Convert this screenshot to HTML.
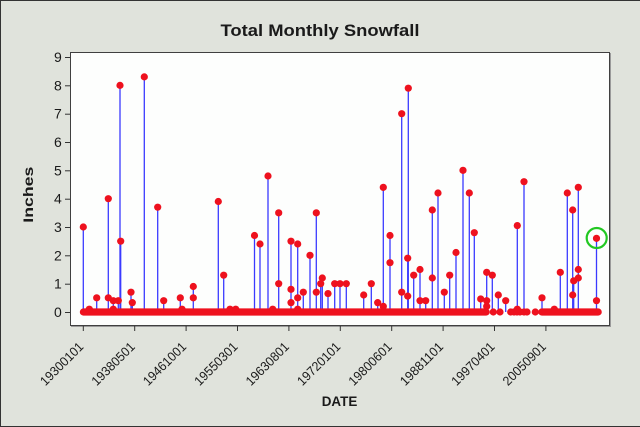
<!DOCTYPE html>
<html><head><meta charset="utf-8"><style>
html,body{margin:0;padding:0;background:#e0e3dc;}
svg{display:block;}
text{font-family:"Liberation Sans","DejaVu Sans",sans-serif;fill:#1a1a1a;}
</style></head><body>
<svg width="640" height="427" viewBox="0 0 640 427" xmlns="http://www.w3.org/2000/svg">
<rect x="0" y="0" width="640" height="427" fill="#e0e3dc"/>
<line x1="0.5" y1="0" x2="0.5" y2="427" stroke="#333" stroke-width="1"/>
<line x1="0" y1="0.5" x2="640" y2="0.5" stroke="#333" stroke-width="1"/>
<line x1="0" y1="426.5" x2="640" y2="426.5" stroke="#333" stroke-width="1"/>

<text x="320" y="36" font-size="17" font-weight="bold" text-anchor="middle" textLength="199" lengthAdjust="spacingAndGlyphs" fill="#111">Total Monthly Snowfall</text>

<!-- plot area -->
<rect x="70.5" y="52.5" width="539" height="273" fill="#fdfefd" stroke="#404040" stroke-width="1"/>
<line x1="610.5" y1="53" x2="610.5" y2="327" stroke="#9a9a9a" stroke-width="1"/>
<line x1="71" y1="326.5" x2="611" y2="326.5" stroke="#9a9a9a" stroke-width="1"/>

<!-- y axis ticks -->
<g stroke="#333" stroke-width="1">
<line x1="65" y1="312.5" x2="70" y2="312.5"/>
<line x1="65" y1="284.2" x2="70" y2="284.2"/>
<line x1="65" y1="255.8" x2="70" y2="255.8"/>
<line x1="65" y1="227.5" x2="70" y2="227.5"/>
<line x1="65" y1="199.2" x2="70" y2="199.2"/>
<line x1="65" y1="170.8" x2="70" y2="170.8"/>
<line x1="65" y1="142.5" x2="70" y2="142.5"/>
<line x1="65" y1="114.2" x2="70" y2="114.2"/>
<line x1="65" y1="85.8" x2="70" y2="85.8"/>
<line x1="65" y1="57.5" x2="70" y2="57.5"/>
</g>
<g font-size="14" text-anchor="end">
<text x="61.8" y="317">0</text>
<text x="61.8" y="288.7">1</text>
<text x="61.8" y="260.3">2</text>
<text x="61.8" y="232">3</text>
<text x="61.8" y="203.7">4</text>
<text x="61.8" y="175.3">5</text>
<text x="61.8" y="147">6</text>
<text x="61.8" y="118.7">7</text>
<text x="61.8" y="90.3">8</text>
<text x="61.8" y="62">9</text>
</g>
<text transform="translate(33,194.7) rotate(-90)" font-size="13.5" font-weight="bold" text-anchor="middle" textLength="56" lengthAdjust="spacingAndGlyphs" fill="#111">Inches</text>

<!-- x axis ticks -->
<g stroke="#333" stroke-width="1">
<line x1="83.3" y1="326" x2="83.3" y2="331"/>
<line x1="134.7" y1="326" x2="134.7" y2="331"/>
<line x1="186.1" y1="326" x2="186.1" y2="331"/>
<line x1="237.5" y1="326" x2="237.5" y2="331"/>
<line x1="288.9" y1="326" x2="288.9" y2="331"/>
<line x1="340.3" y1="326" x2="340.3" y2="331"/>
<line x1="391.7" y1="326" x2="391.7" y2="331"/>
<line x1="443.1" y1="326" x2="443.1" y2="331"/>
<line x1="494.5" y1="326" x2="494.5" y2="331"/>
<line x1="545.9" y1="326" x2="545.9" y2="331"/>
</g>
<g font-size="13" text-anchor="end">
<text transform="translate(84.3,347.5) rotate(-45)" textLength="55" lengthAdjust="spacingAndGlyphs">19300101</text>
<text transform="translate(135.7,347.5) rotate(-45)" textLength="55" lengthAdjust="spacingAndGlyphs">19380501</text>
<text transform="translate(187.1,347.5) rotate(-45)" textLength="55" lengthAdjust="spacingAndGlyphs">19461001</text>
<text transform="translate(238.5,347.5) rotate(-45)" textLength="55" lengthAdjust="spacingAndGlyphs">19550301</text>
<text transform="translate(289.9,347.5) rotate(-45)" textLength="55" lengthAdjust="spacingAndGlyphs">19630801</text>
<text transform="translate(341.3,347.5) rotate(-45)" textLength="55" lengthAdjust="spacingAndGlyphs">19720101</text>
<text transform="translate(392.7,347.5) rotate(-45)" textLength="55" lengthAdjust="spacingAndGlyphs">19800601</text>
<text transform="translate(444.1,347.5) rotate(-45)" textLength="55" lengthAdjust="spacingAndGlyphs">19881101</text>
<text transform="translate(495.5,347.5) rotate(-45)" textLength="55" lengthAdjust="spacingAndGlyphs">19970401</text>
<text transform="translate(546.9,347.5) rotate(-45)" textLength="55" lengthAdjust="spacingAndGlyphs">20050901</text>
</g>
<text x="339.5" y="406" font-size="13.5" font-weight="bold" text-anchor="middle" textLength="35.6" lengthAdjust="spacingAndGlyphs" fill="#111">DATE</text>

<!-- stems -->
<g stroke="#3a3aff" stroke-width="1.3" id="stems"></g>
<!-- baseline band -->
<g fill="#ee111e">
<rect x="79.8" y="308.4" width="410" height="7.2" rx="3.6"/>
<rect x="538.2" y="308.4" width="63.6" height="7.2" rx="3.6"/>
<circle cx="493.3" cy="312" r="3.6"/>
<circle cx="500" cy="312" r="3.6"/>
<circle cx="510.7" cy="312" r="3.6"/>
<circle cx="514" cy="312" r="3.6"/>
<circle cx="517" cy="312" r="3.6"/>
<circle cx="520" cy="312" r="3.6"/>
<circle cx="524" cy="312" r="3.6"/>
<circle cx="527" cy="312" r="3.6"/>
<circle cx="535.3" cy="312" r="3.6"/>
</g>
<g id="dots" fill="#ee111e"></g>
<circle cx="596.7" cy="238" r="10" fill="none" stroke="#22c822" stroke-width="2.2"/>

<script>
var d=[[83.3,[3.0]],[89.3,[0.1]],[96.7,[0.5]],[108.3,[4.0,0.5]],[113.3,[0.4,0.1]],[118.3,[0.4]],[120,[8.0]],[120.7,[2.5]],[131,[0.7]],[132.3,[0.33]],[144.3,[8.3]],[157.7,[3.7]],[163.7,[0.4]],[180.3,[0.5]],[182,[0.1]],[193.3,[0.9,0.5]],[218.3,[3.9]],[223.7,[1.3]],[230,[0.1]],[235.7,[0.1]],[254.5,[2.7]],[260,[2.4]],[268,[4.8]],[272.7,[0.1]],[278.7,[3.5,1.0]],[291,[2.5,0.8,0.33]],[297.7,[2.4,0.5,0.1]],[303.3,[0.7]],[310,[2.0]],[316.3,[3.5,0.7]],[320.7,[1.0]],[322.3,[1.2]],[328,[0.65]],[334.7,[1.0]],[340,[1.0]],[346.3,[1.0]],[363.7,[0.6]],[371.3,[1.0]],[377.7,[0.33]],[383.3,[4.4,0.2]],[390,[2.7,1.74]],[401.7,[7.0,0.7]],[407.7,[1.9,0.56]],[408.3,[7.9]],[413.7,[1.3]],[420,[1.5,0.4]],[425.7,[0.4]],[432.3,[3.6,1.2]],[438,[4.2]],[444.3,[0.7]],[449.7,[1.3]],[456,[2.1]],[463,[5.0]],[469.3,[4.2]],[474.3,[2.8]],[480.7,[0.46]],[486.7,[1.4,0.4,0.2]],[492.3,[1.3]],[498.3,[0.6]],[505.7,[0.4]],[517.3,[3.05,0.1]],[524,[4.6]],[542,[0.5]],[554.3,[0.1]],[560.3,[1.4]],[567.3,[4.2]],[572.7,[3.6,0.6]],[573.7,[1.1]],[578.3,[4.4,1.5,1.2]],[596.5,[2.6,0.4]]];
var ns="http://www.w3.org/2000/svg",S=document.getElementById("stems"),D=document.getElementById("dots");
d.forEach(function(p){var x=p[0],m=Math.max.apply(null,p[1]);
var l=document.createElementNS(ns,"line");l.setAttribute("x1",x);l.setAttribute("x2",x);l.setAttribute("y1",312);l.setAttribute("y2",312-m*28.33);S.appendChild(l);
p[1].forEach(function(v){var c=document.createElementNS(ns,"circle");c.setAttribute("cx",x);c.setAttribute("cy",312-v*28.33);c.setAttribute("r",3.6);D.appendChild(c);});});
</script>
</svg>
</body></html>
